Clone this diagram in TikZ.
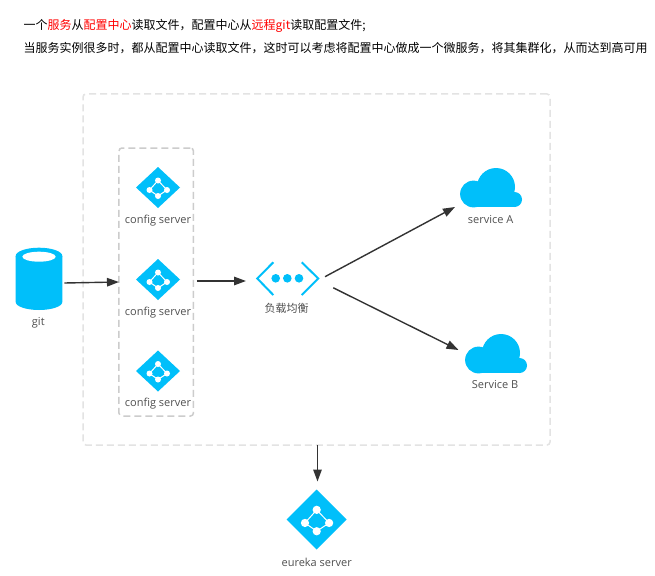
\documentclass[tikz,border=0pt]{standalone}
\usepackage{fontspec}
\setmainfont{Open Sans}
\newfontfamily\cjk{Noto Sans CJK SC}
\usetikzlibrary{arrows.meta,shapes.geometric}
\definecolor{iconblue}{HTML}{00BFFA}
\definecolor{labelgray}{HTML}{505050}
\definecolor{arrowgray}{HTML}{333333}
\tikzset{
  hub/.style={diamond,fill=iconblue,inner sep=0,outer sep=0},
  iconbox/.style={inner sep=0,outer sep=0,rectangle},
  iconlabel/.style={inner sep=0,text=labelgray,font=\fontsize{11}{13}\selectfont},
  headline/.style={inner sep=0,anchor=west,font=\cjk\fontsize{12}{14}\selectfont},
  arr/.style={-{Triangle[length=12pt,width=8.5pt]},draw=arrowgray,line width=1.4pt},
  dashbox/.style={draw=#1,dashed,dash pattern=on 7pt off 4pt,line width=1.5pt,rounded corners=3pt,inner sep=0,outer sep=0}
}
% #1 = scale of the dots, #2 = node name, #5 = size of the diamond
\newcommand{\hubicon}[5]{%
  \node[hub,#5] (#2) at (#3,#4) {};
  \begin{scope}[shift={(#3,#4)},scale=#1]
    \draw[white,line width=1pt] (0,-7) -- (-8.5,2.5) -- (0,8.5) -- (9,2.5) -- cycle;
    \fill[white] (0,-7) circle (3) (-8.5,2.5) circle (3) (0,8.5) circle (3) (9,2.5) circle (3);
  \end{scope}}
\begin{document}
\begin{tikzpicture}[x=1pt,y=-1pt]
  \useasboundingbox (0,0) rectangle (655,575);
  \fill[white] (0,0) rectangle (655,575);

  \node[headline] (lineA) at (23.5,26) {一个\textcolor{red}{服务}从\textcolor{red}{配置中心}读取文件，配置中心从\textcolor{red}{远程git}读取配置文件;};
  \node[headline] (lineB) at (23.5,48) {当服务实例很多时，都从配置中心读取文件，这时可以考虑将配置中心做成一个微服务，将其集群化，从而达到高可用};

  % boxes
  \node[dashbox=black!11,minimum width=467pt,minimum height=351pt] (outerbox) at (316.5,269.5) {};
  \node[dashbox=black!20,minimum width=74.5pt,minimum height=268pt] (cfggroup) at (156.2,282) {};

  % git
  \node[iconbox,minimum width=46.6pt,minimum height=62.3pt] (git) at (39,279) {};
  \fill[iconblue] (15.7,256) arc[x radius=23.3,y radius=8.3,start angle=180,end angle=360]
    -- (62.3,256) arc[x radius=23.3,y radius=8.3,start angle=0,end angle=180] -- cycle;
  \fill[iconblue] (15.7,256) -- (62.3,256) -- (62.3,302) arc[x radius=23.3,y radius=8,start angle=0,end angle=180] -- cycle;
  \fill[white] (39,256.7) ellipse[x radius=16.7,y radius=5];
  \node[iconlabel] (gitlabel) at (38.3,322.5) {git};

  % config servers
  \hubicon{1}{cfgA}{158}{187.5}{aspect=1.07,minimum width=44pt,minimum height=41pt}
  \hubicon{1}{cfgB}{158}{279.5}{aspect=1.07,minimum width=44pt,minimum height=41pt}
  \hubicon{1}{cfgC}{158}{371}{aspect=1.07,minimum width=44pt,minimum height=41pt}
  \node[iconlabel] (cfgAlabel) at (158,221) {config server};
  \node[iconlabel] (cfgBlabel) at (158,313) {config server};
  \node[iconlabel] (cfgClabel) at (158,403.5) {config server};

  % load balancer
  \node[iconbox,minimum width=75pt,minimum height=33pt] (lb) at (287.5,278.5) {};
  \draw[iconblue,line width=2pt] (273.3,262.3) -- (257.3,278.5) -- (273.3,295);
  \draw[iconblue,line width=2pt] (301.7,262.3) -- (318.3,278.5) -- (301.7,295);
  \fill[iconblue] (275.7,278.3) circle (4.3) (287.3,278.3) circle (4.3) (299,278.3) circle (4.3);
  \node[iconlabel,font=\cjk\fontsize{11}{13}\selectfont] (lblabel) at (286.7,308) {负载均衡};

  % services
  \node[iconbox,minimum width=72pt,minimum height=39pt] (svcA) at (491,187.5) {};
  \fill[iconblue] (473.5,194) circle (13.4) (496,187) circle (19) (514.5,199.5) circle (7.5);
  \fill[iconblue] (473.5,195) rectangle (514.5,207);
  \node[iconlabel] (svcAlabel) at (490.7,219.5) {service A};
  \node[iconbox,minimum width=75pt,minimum height=39pt] (svcB) at (496,353.5) {};
  \fill[iconblue] (478.5,360) circle (13.4) (501,353) circle (19) (519.5,365.5) circle (7.5);
  \fill[iconblue] (478.5,361) rectangle (519.5,373);
  \node[iconlabel] (svcBlabel) at (495,385) {Service B};

  % eureka
  \hubicon{1.38}{eureka}{316.7}{519.5}{aspect=1,minimum width=60pt,minimum height=60pt}
  \node[iconlabel] (eurekalabel) at (316.7,562.5) {eureka server};

  % connectors
  \draw[arr] ([xshift=2pt,yshift=-4pt]git.east) -- (cfggroup.west);
  \draw[arr] ([xshift=3.5pt,yshift=1pt]cfggroup.east) -- ([xshift=-4pt,yshift=-2.5pt]lb.west);
  \draw[arr] ([yshift=1.8pt]lb.east) -- (svcA.south west);
  \draw[arr] ([xshift=8.3pt,yshift=-9.3pt]lb.east) -- ([yshift=3.5pt]svcB.west);
  \draw[arr] ([xshift=1pt]outerbox.south) -- ([xshift=.8pt,yshift=8pt]eureka.north);
\end{tikzpicture}
\end{document}
